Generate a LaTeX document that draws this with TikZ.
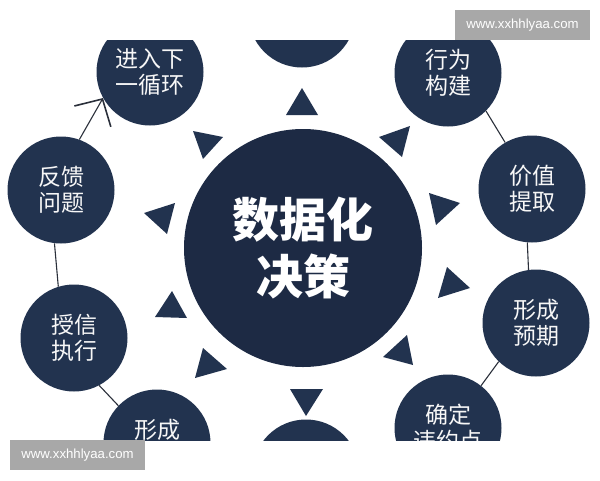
\documentclass[tikz,border=0pt]{standalone}
\usepackage{fontspec}
\newfontfamily\cjk{Noto Sans CJK SC}
\newfontfamily\wmfont{Liberation Sans}
\usetikzlibrary{arrows.meta}
\definecolor{navy}{HTML}{22334F}
\definecolor{deepnavy}{HTML}{1D2A44}
\definecolor{wmgray}{HTML}{A8A8A8}
\definecolor{linecol}{HTML}{2A2F3A}
\tikzset{
  outer/.style={circle, fill=navy, minimum size=107pt, inner sep=0pt, text=white!94!gray,
    font=\cjk\fontsize{23}{26}\selectfont, align=center},
  hub/.style={circle, fill=deepnavy, minimum size=238pt, inner sep=0pt, text=white,
    font=\cjk\bfseries\fontsize{47}{57}\selectfont, align=center},
  conn/.style={draw=linecol, line width=1.1pt},
  tri/.style={fill=navy},
  wm/.style={fill=wmgray, text=white, font=\wmfont\fontsize{13.2}{15}\selectfont,
    minimum width=135pt, minimum height=30pt, inner sep=0pt}
}
\begin{document}
\begin{tikzpicture}[x=1pt,y=-1pt]
\useasboundingbox (0,0) rectangle (600,480);
\begin{scope}
\clip (0,40) rectangle (600,440);
% outer ring of steps
\node[outer] (c0) at (302,14) {};
\node[outer] (c1) at (448,73) {行为\\构建};
\node[outer] (c2) at (532,189) {价值\\提取};
\node[outer] (c3) at (536,323) {形成\\预期};
\node[outer] (c4) at (448,428) {确定\\违约点};
\node[outer] (c5) at (306,473) {};
\node[outer] (c6) at (157,443) {形成\\\phantom{形成}};
\node[outer] (c7) at (74,338) {授信\\执行};
\node[outer] (c8) at (61,190) {反馈\\问题};
\node[outer] (c9) at (150,72) {进入下\\一循环};
% hub
\node[hub] (hub) at (303,248) {数据化\\决策};
% connectors
\draw[conn] (c1.-45) -- (c2.120);
\draw[conn] (c2.265) -- (c3.98);
\draw[conn] (c3.226) -- (c4.52);
\draw[conn] (c8.263) -- (c7.107);
\draw[conn] (c7.298) -- (c6.136);
\draw[conn, -{Straight Barb[length=20pt,width=42pt,line width=1.6pt]}] (c8.70) -- (c9.209);
% triangles
\fill[tri] (302,88) -- (286,115) -- (318,115) -- cycle;
\fill[tri] (379,137) -- (410,126) -- (402,157) -- cycle;
\fill[tri] (193,131) -- (223,137) -- (203,159) -- cycle;
\fill[tri] (429,193) -- (460,203) -- (436,225) -- cycle;
\fill[tri] (447,267) -- (470,288) -- (438,298) -- cycle;
\fill[tri] (407,335) -- (413,365) -- (383,357) -- cycle;
\fill[tri] (290,389) -- (323,389) -- (306,416) -- cycle;
\fill[tri] (203,348) -- (227,369) -- (195,378) -- cycle;
\fill[tri] (172,291) -- (187,318) -- (155,317) -- cycle;
\fill[tri] (175,203) -- (167,234) -- (144,213) -- cycle;
\end{scope}
% watermarks
\node[wm] (wm1) at (522.5,25) {www.xxhhlyaa.com};
\node[wm] (wm2) at (77.5,455) {www.xxhhlyaa.com};
\end{tikzpicture}
\end{document}
